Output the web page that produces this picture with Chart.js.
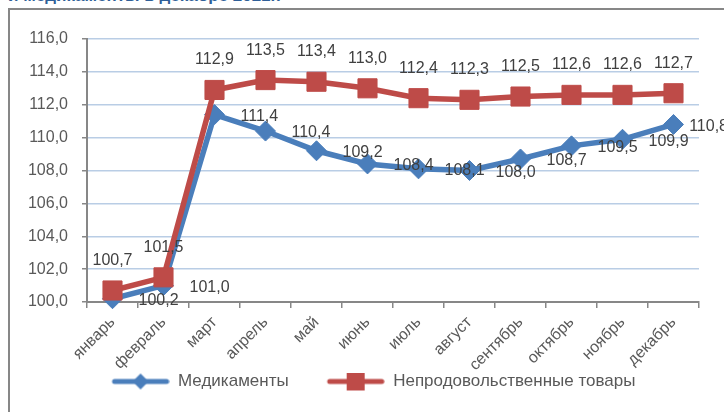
<!DOCTYPE html>
<html lang="ru">
<head>
<meta charset="utf-8">
<script src="https://cdn.jsdelivr.net/npm/chart.js@4/dist/chart.umd.min.js"></script>
<style>
    html, body { margin: 0; padding: 0; background: #fff; overflow: hidden; }
    body { width: 724px; height: 412px; position: relative; }
    #title {
        position: absolute; left: 8px; top: -14px;
        font: bold 17px "Liberation Sans", sans-serif; color: #2f5f98; white-space: nowrap;
    }
    #frame {
        position: absolute; left: 8px; top: 8px; width: 730px; height: 420px;
        border: 2px solid #878787; box-sizing: border-box; background: #fff;
    }
    #chart { display: block; }
</style>
</head>
<body>
<div id="title">и медикаменты в декабре 2021г.</div>
<div id="frame"><canvas id="chart" width="722" height="404"></canvas></div>
<script>
const MONTHS = ['январь', 'февраль', 'март', 'апрель', 'май', 'июнь', 'июль', 'август', 'сентябрь', 'октябрь', 'ноябрь', 'декабрь'];
const MEDICINES = [100.2, 101.0, 111.4, 110.4, 109.2, 108.4, 108.1, 108.0, 108.7, 109.5, 109.9, 110.8];
const NON_FOOD = [100.7, 101.5, 112.9, 113.5, 113.4, 113.0, 112.4, 112.3, 112.5, 112.6, 112.6, 112.7];
const SERIES_NAMES = ['Медикаменты', 'Непродовольственные товары'];
const Y_MIN = 100;
const Y_MAX = 116;
const Y_STEP = 2;

const BLUE = '#4a7ebb';
const RED = '#be4b48';
const FONT = '"Liberation Sans", Arial, sans-serif';
const ICON_GAP = 38; // blank room left of each legend icon, spaces the two entries

function fmt(v) {
    return v.toFixed(1).replace('.', ',');
}

// legend icon: a short thick line with the series marker in the middle
function legendIcon(color, marker) {
    const c = document.createElement('canvas');
    c.width = 58 + ICON_GAP;
    c.height = 22;
    const ctx = c.getContext('2d');
    ctx.translate(ICON_GAP, 0);
    ctx.strokeStyle = color;
    ctx.fillStyle = color;
    ctx.lineWidth = 5;
    ctx.lineCap = 'round';
    ctx.beginPath();
    ctx.moveTo(3, 11);
    ctx.lineTo(55, 11);
    ctx.stroke();
    ctx.beginPath();
    if (marker === 'diamond') {
        ctx.moveTo(29, 3); ctx.lineTo(37, 11); ctx.lineTo(29, 19); ctx.lineTo(21, 11);
    } else {
        ctx.rect(20, 2, 18, 18);
    }
    ctx.closePath();
    ctx.fill();
    return c;
}

const labelPlugin = {
    id: 'valueLabels',
    afterDatasetsDraw(chart) {
        const ctx = chart.ctx;
        ctx.save();
        ctx.font = '16px ' + FONT;
        ctx.fillStyle = '#404040';
        chart.data.datasets.forEach((ds, i) => {
            const meta = chart.getDatasetMeta(i);
            meta.data.forEach((pt, j) => {
                const text = fmt(ds.data[j]);
                if (ds.labelSide === 'top') {
                    ctx.textAlign = 'center';
                    ctx.textBaseline = 'middle';
                    ctx.fillText(text, pt.x, pt.y - 30);
                } else {
                    const w = ctx.measureText(text).width;
                    let x = pt.x + 26;
                    if (x + w > chart.width - 4) x = chart.width - 4 - w;
                    ctx.textAlign = 'left';
                    ctx.textBaseline = 'middle';
                    ctx.fillText(text, x, pt.y + 2);
                }
            });
        });
        ctx.restore();
    }
};

new Chart(document.getElementById('chart'), {
    type: 'line',
    data: {
        labels: MONTHS,
        datasets: [
            {
                label: SERIES_NAMES[0],
                data: MEDICINES,
                borderColor: BLUE,
                backgroundColor: BLUE,
                borderWidth: 5.5,
                pointStyle: 'rectRot',
                pointRadius: 10,
                pointBorderWidth: 1,
                tension: 0,
                clip: false,
                order: 2,
                labelSide: 'right',
                icon: legendIcon(BLUE, 'diamond'),
            },
            {
                label: SERIES_NAMES[1],
                data: NON_FOOD,
                borderColor: RED,
                backgroundColor: RED,
                borderWidth: 5.5,
                pointStyle: 'rect',
                pointRadius: 13.5,
                pointBorderWidth: 1,
                tension: 0,
                clip: false,
                order: 1,
                labelSide: 'top',
                icon: legendIcon(RED, 'square'),
            },
        ]
    },
    options: {
        responsive: false,
        animation: false,
        devicePixelRatio: 1,
        layout: { padding: { left: 0, top: 29, right: 33, bottom: 14 } },
        scales: {
            x: {
                offset: true,
                grid: {
                    offset: true,
                    drawOnChartArea: false,
                    color: '#878787',
                    tickLength: 6,
                    lineWidth: 1.5,
                },
                border: { color: '#878787', width: 2 },
                ticks: {
                    minRotation: 45,
                    maxRotation: 45,
                    padding: 5,
                    color: '#595959',
                    font: { family: FONT, size: 16 },
                },
                afterFit(scale) { scale.height = 71; },
            },
            y: {
                min: Y_MIN,
                max: Y_MAX,
                ticks: {
                    stepSize: Y_STEP,
                    padding: 14,
                    color: '#595959',
                    font: { family: FONT, size: 16 },
                    callback: v => fmt(v),
                },
                grid: {
                    color: '#b9cde5',
                    lineWidth: 1.5,
                    tickColor: '#878787',
                    tickLength: 5,
                },
                border: { color: '#878787', width: 2 },
                afterFit(scale) { scale.width = 77; },
            }
        },
        plugins: {
            tooltip: { enabled: false },
            legend: {
                position: 'bottom',
                labels: {
                    usePointStyle: true,
                    pointStyleWidth: 58 + ICON_GAP,
                    padding: 0,
                    color: '#595959',
                    font: { family: FONT, size: 17 },
                    generateLabels(chart) {
                        return chart.data.datasets.map((ds, i) => ({
                            text: ds.label,
                            pointStyle: ds.icon,
                            fillStyle: ds.borderColor,
                            strokeStyle: ds.borderColor,
                            lineWidth: 0,
                            fontColor: '#595959',
                            datasetIndex: i,
                            hidden: false,
                        }));
                    }
                }
            }
        }
    },
    plugins: [labelPlugin]
});
</script>
</body>
</html>
